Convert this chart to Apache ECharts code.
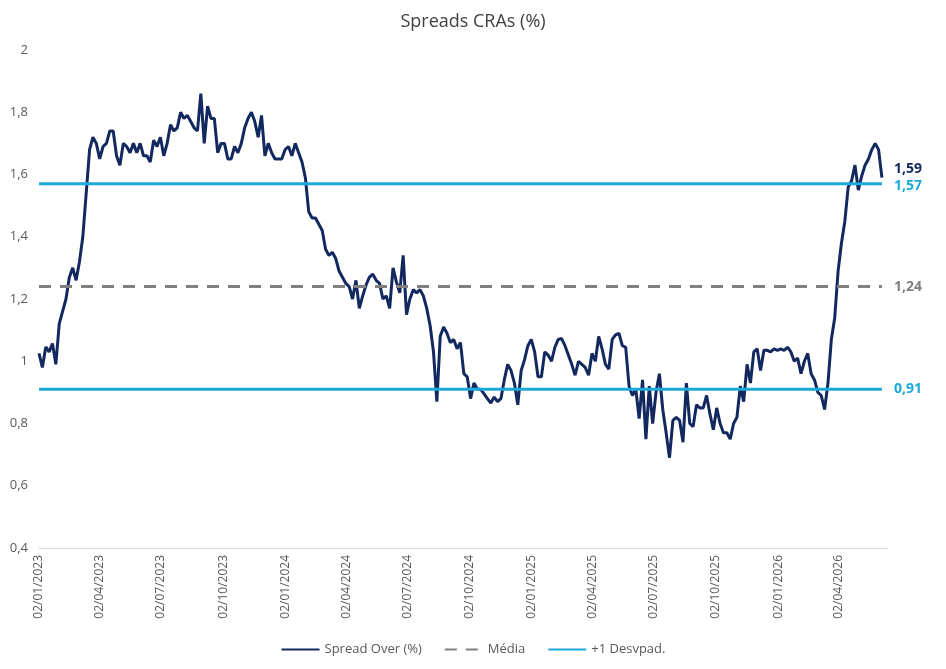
<!DOCTYPE html>
<html>
<head>
<meta charset="utf-8">
<script src="https://cdn.jsdelivr.net/npm/echarts@6/dist/echarts.min.js"></script>
<style>
  html, body { margin: 0; padding: 0; background: #fff; }
  #chart { width: 946px; height: 669px; }
</style>
</head>
<body>
<div id="chart"></div>
<script>
// spread series, one value every 5 days starting 02/01/2023
const startDate = '02/01/2023';
const endDate = '14/06/2026';
const stepDays = 5;

const values2023 = [
  1.025, 0.98, 1.046, 1.03, 1.057, 0.99, 1.12, 1.16, 1.20, 1.27,
  1.30, 1.26, 1.32, 1.40, 1.54, 1.68, 1.72, 1.70, 1.65, 1.69,
  1.70, 1.74, 1.74, 1.66, 1.63, 1.70, 1.69, 1.67, 1.70, 1.67,
  1.70, 1.66, 1.66, 1.64, 1.71, 1.69, 1.72, 1.66, 1.70, 1.76,
  1.74, 1.75, 1.80, 1.78, 1.79, 1.77, 1.75, 1.74, 1.86, 1.70,
  1.82, 1.78, 1.78, 1.67, 1.70, 1.70, 1.65, 1.65, 1.69, 1.67,
  1.70, 1.75, 1.78, 1.80, 1.77, 1.72, 1.79, 1.66, 1.70, 1.67,
  1.65, 1.65, 1.65
];
const values2024 = [
  1.68, 1.69, 1.66, 1.70, 1.67, 1.64, 1.59, 1.48, 1.46, 1.46,
  1.44, 1.42, 1.36, 1.34, 1.35, 1.33, 1.29, 1.27, 1.25, 1.24,
  1.20, 1.26, 1.17, 1.21, 1.245, 1.27, 1.28, 1.26, 1.25, 1.20,
  1.21, 1.17, 1.30, 1.255, 1.22, 1.34, 1.15, 1.20, 1.23, 1.22,
  1.23, 1.21, 1.17, 1.115, 1.03, 0.87, 1.08, 1.11, 1.09, 1.06,
  1.07, 1.04, 1.06, 0.96, 0.95, 0.88, 0.93, 0.91, 0.91, 0.895,
  0.88, 0.866, 0.885, 0.87, 0.88, 0.94, 0.99, 0.97, 0.93, 0.86,
  0.97, 1.005, 1.05
];
const values2025 = [
  1.07, 1.03, 0.95, 0.95, 1.03, 1.02, 1.00, 1.045, 1.07, 1.073,
  1.05, 1.02, 0.99, 0.955, 1.00, 0.99, 0.98, 0.955, 1.025, 1.00,
  1.08, 1.04, 0.99, 0.975, 1.07, 1.085, 1.09, 1.05, 1.045, 0.92,
  0.89, 0.91, 0.816, 0.94, 0.75, 0.92, 0.80, 0.90, 0.96, 0.845,
  0.77, 0.69, 0.81, 0.82, 0.81, 0.74, 0.93, 0.80, 0.79, 0.86,
  0.85, 0.85, 0.89, 0.83, 0.78, 0.85, 0.80, 0.77, 0.77, 0.75,
  0.80, 0.82, 0.92, 0.87, 0.99, 0.93, 1.03, 1.04, 0.97, 1.035,
  1.035, 1.03, 1.04
];
const values2026 = [
  1.035, 1.04, 1.035, 1.045, 1.03, 1.00, 1.01, 0.96, 1.00, 1.025,
  0.96, 0.94, 0.90, 0.89, 0.845, 0.93, 1.07, 1.14, 1.29, 1.38,
  1.45, 1.56, 1.58, 1.63, 1.55, 1.595, 1.63, 1.65, 1.68, 1.70,
  1.68, 1.59
];

const mediaValue = 1.24;
const desvUpValue = 1.57;
const desvDownValue = 0.91;

const tickLabels = [
  '02/01/2023', '02/04/2023', '02/07/2023', '02/10/2023',
  '02/01/2024', '02/04/2024', '02/07/2024', '02/10/2024',
  '02/01/2025', '02/04/2025', '02/07/2025', '02/10/2025',
  '02/01/2026', '02/04/2026'
];
const yTicks = [0.4, 0.6, 0.8, 1, 1.2, 1.4, 1.6, 1.8, 2];

const navy = '#12285F';
const cyan = '#1CA9D9';
const gray = '#808080';

const DAY = 86400000;
function parseDate(s) {
  const p = s.split('/');
  return Date.UTC(+p[2], +p[1] - 1, +p[0]);
}
const t0 = parseDate(startDate);
function dayOffset(s) { return Math.round((parseDate(s) - t0) / DAY); }
function pad(n) { return n < 10 ? '0' + n : '' + n; }
function fmtNum(v) { return String(Math.round(v * 100) / 100).replace('.', ','); }
function fmtDay(d) {
  const dt = new Date(t0 + Math.round(d) * DAY);
  return pad(dt.getUTCDate()) + '/' + pad(dt.getUTCMonth() + 1) + '/' + dt.getUTCFullYear();
}

const spreadValues = values2023.concat(values2024, values2025, values2026);
const spreadData = spreadValues.map(function (v, i) { return [stepDays * i, v]; });
const lastDay = spreadData[spreadData.length - 1][0];
const lastValue = spreadValues[spreadValues.length - 1];

function flatLine(v) { return [[0, v], [lastDay, v]]; }

const chart = echarts.init(document.getElementById('chart'));
chart.setOption({
  animation: false,
  backgroundColor: '#fff',
  title: {
    text: 'Spreads CRAs (%)',
    left: 'center',
    top: 8,
    textStyle: { fontFamily: 'Open Sans', fontSize: 18, fontWeight: 'normal', color: '#404040' }
  },
  legend: {
    bottom: 8,
    left: 'center',
    itemWidth: 38,
    itemHeight: 10,
    itemGap: 22,
    itemStyle: { opacity: 0 },
    data: ['Spread Over (%)', 'Média', '+1 Desvpad.'],
    textStyle: { fontFamily: 'Open Sans', fontSize: 13, color: '#595959' }
  },
  grid: { left: 39, right: 58, top: 50, bottom: 121 },
  xAxis: {
    type: 'value',
    min: 0,
    max: dayOffset(endDate),
    axisLine: { lineStyle: { color: '#D9D9D9', width: 1 } },
    axisTick: { show: false },
    splitLine: { show: false },
    axisLabel: {
      customValues: tickLabels.map(dayOffset),
      rotate: 90,
      margin: 7,
      fontFamily: 'Open Sans',
      fontSize: 12,
      color: '#595959',
      formatter: fmtDay
    }
  },
  yAxis: {
    type: 'value',
    min: yTicks[0],
    max: yTicks[yTicks.length - 1],
    interval: 0.2,
    axisLine: { show: false },
    axisTick: { show: false },
    splitLine: { show: false },
    axisLabel: {
      margin: 11,
      fontFamily: 'Open Sans',
      fontSize: 13,
      color: '#595959',
      formatter: fmtNum
    }
  },
  series: [
    {
      name: 'Spread Over (%)',
      type: 'line',
      data: spreadData,
      symbol: 'none',
      lineStyle: { color: navy, width: 3 },
      itemStyle: { color: navy },
      endLabel: {
        show: true,
        formatter: function () { return fmtNum(lastValue); },
        color: navy,
        fontFamily: 'Open Sans',
        fontWeight: 'bold',
        fontSize: 14,
        distance: 12,
        offset: [0, -9]
      }
    },
    {
      name: 'Média',
      type: 'line',
      data: flatLine(mediaValue),
      symbol: 'none',
      lineStyle: { color: gray, width: 3, type: [12, 9] },
      itemStyle: { color: gray },
      endLabel: {
        show: true,
        formatter: fmtNum(mediaValue),
        color: gray,
        fontFamily: 'Open Sans',
        fontWeight: 'bold',
        fontSize: 14,
        distance: 12
      }
    },
    {
      name: '+1 Desvpad.',
      type: 'line',
      data: flatLine(desvUpValue),
      symbol: 'none',
      lineStyle: { color: cyan, width: 3 },
      itemStyle: { color: cyan },
      endLabel: {
        show: true,
        formatter: fmtNum(desvUpValue),
        color: cyan,
        fontFamily: 'Open Sans',
        fontWeight: 'bold',
        fontSize: 14,
        distance: 12,
        offset: [0, 2]
      }
    },
    {
      name: '-1 Desvpad.',
      type: 'line',
      data: flatLine(desvDownValue),
      symbol: 'none',
      lineStyle: { color: cyan, width: 3 },
      itemStyle: { color: cyan },
      endLabel: {
        show: true,
        formatter: fmtNum(desvDownValue),
        color: cyan,
        fontFamily: 'Open Sans',
        fontWeight: 'bold',
        fontSize: 14,
        distance: 12
      }
    }
  ]
});
</script>
</body>
</html>
